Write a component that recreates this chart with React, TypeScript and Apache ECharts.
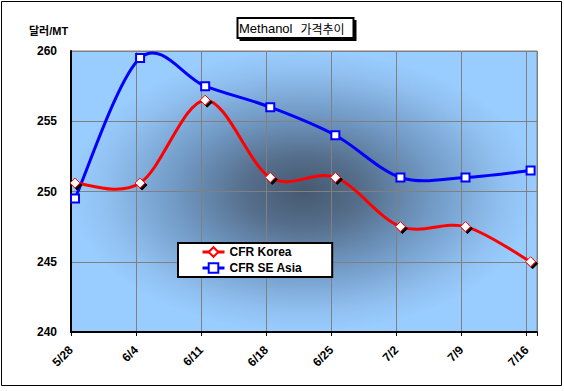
import React, { useEffect, useRef } from 'react';
import * as echarts from 'echarts';

const categories = ['5/28', '6/4', '6/11', '6/18', '6/25', '7/2', '7/9', '7/16'];
const koreaValues = [250.6, 250.6, 256.5, 251, 251, 247.5, 247.5, 245];
const seAsiaValues = [249.5, 259.5, 257.5, 256, 254, 251, 251, 251.5];
const yTicks = [240, 245, 250, 255, 260];
const seriesNames = ['CFR Korea', 'CFR SE Asia'];
const seriesColors = ['#ff0000', '#0000ff'];
const titleLatin = 'Methanol';
const titleKorean = '가격추이';
const unitLabel = '달러/MT';

export default function App() {
  const ref = useRef<HTMLDivElement>(null);
  useEffect(() => {
    document.body.style.margin = '0';
    const chart = echarts.init(ref.current!, null, { renderer: 'svg' });
    const font = 'Arial, "Liberation Sans", "Noto Sans CJK KR", sans-serif';
    const xMax = categories.length - 1 + 0.16;
    const toPairs = (vals: number[]) => vals.map((v, i) => [i, v]);
    const bg = new echarts.graphic.RadialGradient(0.5, 0.5, 0.5, [
      { offset: 0, color: '#465970' },
      { offset: 0.25, color: '#556e8b' },
      { offset: 0.55, color: '#7199c4' },
      { offset: 0.85, color: '#90c0f0' },
      { offset: 1, color: '#99ccff' },
    ]);
    const smoothCurve = (vals: number[], color: string) => (params: any, api: any) => {
      const i = params.dataIndex;
      const n = vals.length;
      if (i >= n - 1) return null;
      const p = (k: number) => {
        const kk = Math.max(0, Math.min(n - 1, k));
        return api.coord([kk, vals[kk]]);
      };
      const p0 = p(i - 1), p1 = p(i), p2 = p(i + 1), p3 = p(i + 2);
      return {
        type: 'bezierCurve',
        shape: {
          x1: p1[0], y1: p1[1], x2: p2[0], y2: p2[1],
          cpx1: p1[0] + (p2[0] - p0[0]) / 6, cpy1: p1[1] + (p2[1] - p0[1]) / 6,
          cpx2: p2[0] - (p3[0] - p1[0]) / 6, cpy2: p2[1] - (p3[1] - p1[1]) / 6,
        },
        style: { stroke: color, lineWidth: 3, fill: 'none', lineCap: 'round' },
      };
    };
    const grid = { top: 51, width: 466, height: 281, containLabel: false };
    chart.setOption({
      animation: false,
      backgroundColor: '#ffffff',
      grid: [
        { ...grid, left: 71, show: true, backgroundColor: bg, borderColor: '#808080', borderWidth: 1 },
        { ...grid, left: 75 },
      ],
      xAxis: [
        {
          type: 'value', gridIndex: 0, min: 0, max: xMax, interval: 1,
          axisLine: { show: true, onZero: false, lineStyle: { color: '#000', width: 2 } },
          axisTick: { show: true, length: 4, lineStyle: { color: '#000', width: 1 } },
          axisLabel: {
            rotate: 45, margin: 16, fontSize: 12, fontWeight: 'bold', color: '#000', fontFamily: font,
            formatter: (v: number) => (Number.isInteger(v) && categories[v] !== undefined ? categories[v] : ''),
          },
          splitLine: { show: true, lineStyle: { color: '#808080', width: 1 } },
        },
        { type: 'value', gridIndex: 1, min: 0, max: xMax, show: false },
      ],
      yAxis: [
        {
          type: 'value', gridIndex: 0, min: yTicks[0], max: yTicks[yTicks.length - 1], interval: yTicks[1] - yTicks[0],
          axisLine: { show: true, lineStyle: { color: '#000', width: 2 } },
          axisTick: { show: false },
          axisLabel: { margin: 14, fontSize: 12, fontWeight: 'bold', color: '#000', fontFamily: font },
          splitLine: { show: true, lineStyle: { color: '#808080', width: 1 } },
        },
        { type: 'value', gridIndex: 1, min: yTicks[0], max: yTicks[yTicks.length - 1], show: false },
      ],
      legend: {
        left: 178, top: 243, orient: 'vertical',
        padding: [3, 30, 3, 23], itemGap: 4, itemWidth: 22, itemHeight: 12,
        backgroundColor: '#ffffff', borderColor: '#000', borderWidth: 2,
        textStyle: { fontSize: 12, fontWeight: 'bold', color: '#000', fontFamily: font },
        lineStyle: { opacity: 1, width: 3 },
        itemStyle: { shadowBlur: 0, shadowOffsetX: 0, shadowOffsetY: 0, shadowColor: 'transparent' },
        data: seriesNames,
      },
      series: [
        {
          type: 'custom', xAxisIndex: 1, yAxisIndex: 1, z: 2, silent: true,
          data: toPairs(seAsiaValues), encode: { x: 0, y: 1 },
          renderItem: smoothCurve(seAsiaValues, seriesColors[1]),
        },
        {
          type: 'custom', xAxisIndex: 1, yAxisIndex: 1, z: 2, silent: true,
          data: toPairs(koreaValues), encode: { x: 0, y: 1 },
          renderItem: smoothCurve(koreaValues, seriesColors[0]),
        },
        {
          name: seriesNames[0], type: 'line', xAxisIndex: 1, yAxisIndex: 1,
          data: toPairs(koreaValues), clip: false,
          symbol: 'diamond', symbolSize: 10, z: 4,
          lineStyle: { color: seriesColors[0], width: 3, opacity: 0 },
          itemStyle: {
            color: '#ffffff', borderColor: seriesColors[0], borderWidth: 1,
            shadowColor: '#000', shadowBlur: 0, shadowOffsetX: 2, shadowOffsetY: 2,
          },
        },
        {
          name: seriesNames[1], type: 'line', xAxisIndex: 1, yAxisIndex: 1,
          data: toPairs(seAsiaValues), clip: false,
          symbol: 'rect', symbolSize: 8, z: 3,
          lineStyle: { color: seriesColors[1], width: 3, opacity: 0 },
          itemStyle: { color: '#ffffff', borderColor: seriesColors[1], borderWidth: 2 },
        },
      ],
      graphic: [
        { type: 'rect', silent: true, shape: { x: 1.5, y: 1.5, width: 560, height: 384 }, style: { fill: 'none', stroke: '#000', lineWidth: 1 } },
        { type: 'rect', silent: true, shape: { x: 239.5, y: 20, width: 117, height: 21 }, style: { fill: '#000' } },
        { type: 'rect', silent: true, shape: { x: 237.5, y: 18, width: 116, height: 20 }, style: { fill: '#fff', stroke: '#000', lineWidth: 2 } },
        {
          type: 'text', silent: true, x: 239, y: 28,
          style: {
            text: `{a|${titleLatin}}{b|${titleKorean}}`,
            verticalAlign: 'middle',
            rich: {
              a: { fontSize: 13, fontFamily: font, fill: '#000' },
              b: { fontSize: 12, fontFamily: '"Noto Sans CJK KR", sans-serif', fill: '#000', padding: [0, 0, 0, 8] },
            },
          },
        },
        {
          type: 'text', silent: true, x: 29, y: 31,
          style: { text: unitLabel, fontSize: 11, fontWeight: 'bold', fontFamily: font, fill: '#000', verticalAlign: 'middle' },
        },
      ],
    });
    return () => chart.dispose();
  }, []);
  return <div ref={ref} style={{ width: 564, height: 391 }} />;
}
